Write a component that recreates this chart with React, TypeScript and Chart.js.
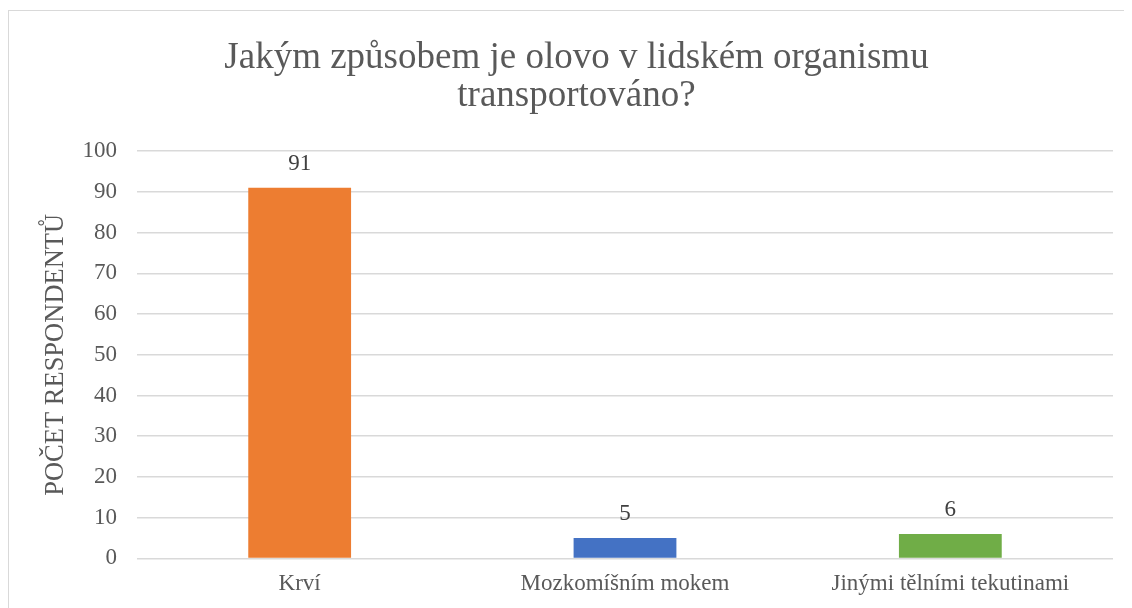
import React, { useEffect, useRef } from "react";
import { Chart, registerables } from "chart.js";

Chart.register(...registerables);

const categories = ["Krví", "Mozkomíšním mokem", "Jinými tělními tekutinami"];
const values = [91, 5, 6];
const barColors = ["#ED7D31", "#4472C4", "#70AD47"];
const titleLines = ["Jakým způsobem je olovo v lidském organismu", "transportováno?"];
const yAxisTitle = "POČET RESPONDENTŮ";

const FONT = "'Liberation Serif', 'Times New Roman', serif";

const dataLabelPlugin = {
  id: "dataLabels",
  afterDatasetsDraw(chart: any) {
    const ctx = chart.ctx;
    const meta = chart.getDatasetMeta(0);
    ctx.save();
    ctx.font = `23px ${FONT}`;
    ctx.fillStyle = "#404040";
    ctx.textAlign = "center";
    ctx.textBaseline = "middle";
    meta.data.forEach((bar: any, i: number) => {
      ctx.fillText(String(values[i]), bar.x, bar.y - 24);
    });
    ctx.restore();
  },
};

export default function App() {
  const ref = useRef<HTMLCanvasElement | null>(null);

  useEffect(() => {
    document.documentElement.style.overflow = "hidden";
    document.body.style.overflow = "hidden";
    if (!ref.current) return;
    const chart = new Chart(ref.current, {
      type: "bar",
      data: {
        labels: categories,
        datasets: [
          {
            data: values,
            backgroundColor: barColors,
            categoryPercentage: 1,
            barPercentage: 0.316,
          },
        ],
      },
      options: {
        responsive: false,
        animation: false,
        layout: { padding: { left: 31, right: 19, top: 0, bottom: 21 } },
        plugins: {
          legend: { display: false },
          tooltip: { enabled: false },
          title: {
            display: true,
            text: titleLines,
            color: "#595959",
            font: { family: FONT, size: 37, weight: "normal", lineHeight: 1.03 },
            padding: { top: 28, bottom: 36 },
          },
        },
        scales: {
          x: {
            grid: { display: false, drawTicks: false },
            border: { display: false },
            ticks: {
              color: "#595959",
              font: { family: FONT, size: 23 },
              padding: 12,
            },
          },
          y: {
            min: 0,
            max: 100,
            afterFit: (s: any) => {
              s.width = 97;
            },
            ticks: {
              stepSize: 10,
              color: "#595959",
              font: { family: FONT, size: 23 },
              padding: 20,
            },
            grid: { color: "#D9D9D9", lineWidth: 1.5, drawTicks: false },
            border: { display: false },
            title: {
              display: true,
              text: yAxisTitle,
              color: "#595959",
              font: { family: FONT, size: 26.5 },
              padding: 0,
            },
          },
        },
      },
      plugins: [dataLabelPlugin],
    });
    return () => chart.destroy();
  }, []);

  return (
    <div
      style={{
        position: "relative",
        top: 2,
        width: 1140,
        height: 640,
        border: "1px solid #D9D9D9",
        boxSizing: "border-box",
        background: "#fff",
      }}
    >
      <canvas ref={ref} width={1123} height={620} style={{ display: "block" }} />
    </div>
  );
}
